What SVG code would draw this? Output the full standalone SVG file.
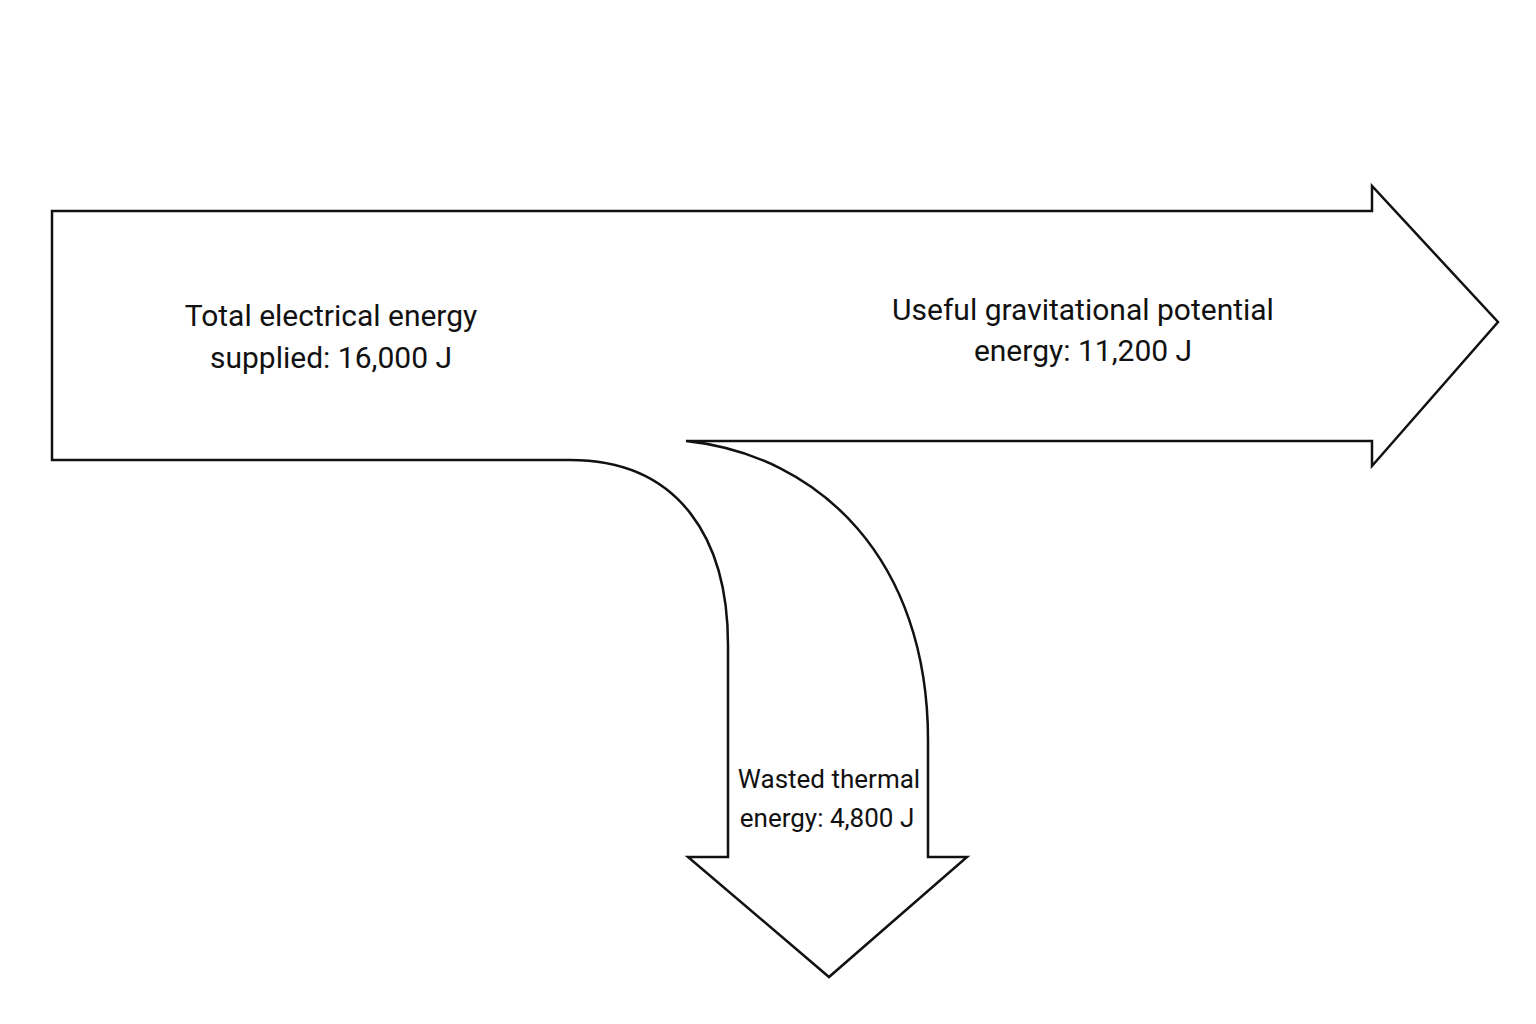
<svg xmlns="http://www.w3.org/2000/svg" width="1536" height="1024" viewBox="0 0 1536 1024">
<style>
text{font-family:Roboto,"Liberation Sans",sans-serif;fill:#111;text-anchor:middle}
.a{font-size:30px}.b{font-size:26px}
</style>
<rect width="1536" height="1024" fill="#fff"/>
<g id="sankey">
<path d="M52,211 L1372,211 L1372,186 L1498,322 L1372,466 L1372,441 L686,441 C820,455 928,560 928,740 L928,857 L967,857 L829,977 L688,857 L728,857 L728,645 C728,540 680,460 570,460 L52,460 Z" fill="#fff" stroke="#111" stroke-width="2.5" stroke-linejoin="miter"/>
</g>
<g id="label-total"><text class="a" x="331" y="326">Total electrical energy</text><text class="a" x="331" y="368">supplied: 16,000 J</text></g>
<g id="label-useful"><text class="a" x="1083" y="320">Useful gravitational potential</text><text class="a" x="1083" y="361">energy: 11,200 J</text></g>
<g id="label-wasted"><text class="b" x="829" y="788">Wasted thermal</text><text class="b" x="827" y="827">energy: 4,800 J</text></g>
</svg>
